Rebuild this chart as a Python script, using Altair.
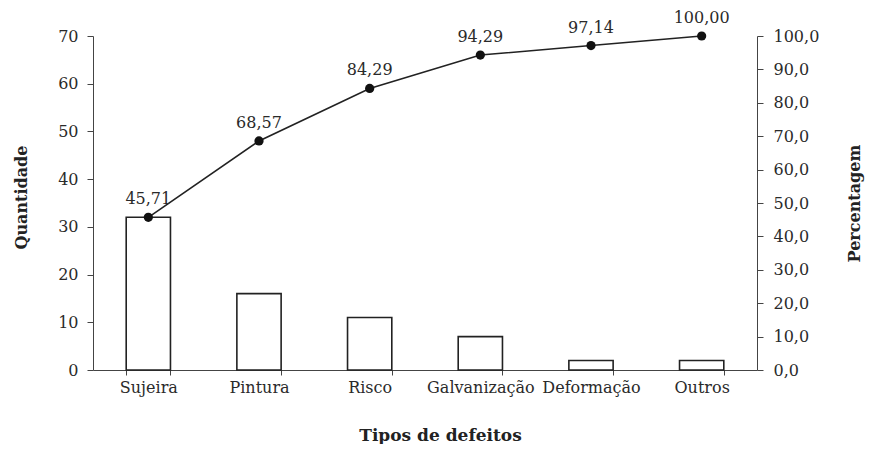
import altair as alt
import pandas as pd

categorias = ["Sujeira", "Pintura", "Risco", "Galvanização", "Deformação", "Outros"]
quantidade = [32, 16, 11, 7, 2, 2]
percentual = [45.71, 68.57, 84.29, 94.29, 97.14, 100.00]
rotulos = ["45,71", "68,57", "84,29", "94,29", "97,14", "100,00"]
ticks_pct = [0, 10, 20, 30, 40, 50, 60, 70, 80, 90, 100]
ticks_qtd = [0, 10, 20, 30, 40, 50, 60, 70]

df = pd.DataFrame({"cat": categorias, "qtd": quantidade, "pct": percentual, "lab": rotulos})

FONT = "DejaVu Serif"
AX = "#444444"
TXT = "#2a2a2a"
LFS = 16

xenc = alt.X(
    "cat:N",
    sort=categorias,
    scale=alt.Scale(paddingInner=0.6, paddingOuter=0.3),
    axis=alt.Axis(
        title="Tipos de defeitos",
        tickBand="extent",
        labelAngle=0,
        labelFontSize=LFS,
        labelFont=FONT,
        labelColor=TXT,
        labelPadding=4,
        tickSize=5,
        tickColor=AX,
        domainColor=AX,
        titleFont=FONT,
        titleFontSize=17,
        titleFontWeight="bold",
        titleColor="#222222",
        titleBaseline="alphabetic",
        titleAlign="center",
        titleX=347,
        titleY=70,
    ),
)

bars = alt.Chart(df).mark_bar(fill="white", stroke="#222222", strokeWidth=1.6).encode(
    x=xenc,
    y=alt.Y(
        "qtd:Q",
        scale=alt.Scale(domain=[0, 70], nice=False),
        axis=alt.Axis(
            title="Quantidade",
            values=ticks_qtd,
            grid=False,
            labelFontSize=LFS,
            labelFont=FONT,
            labelColor=TXT,
            labelPadding=9,
            tickSize=6,
            tickColor=AX,
            domainColor=AX,
            titleFont=FONT,
            titleFontSize=16,
            titleFontWeight="bold",
            titleColor="#222222",
            titlePadding=28,
            titleY=161,
        ),
    ),
)

ypct = alt.Y(
    "pct:Q",
    scale=alt.Scale(domain=[0, 100], nice=False),
    axis=alt.Axis(
        title="Percentagem",
        orient="right",
        values=ticks_pct,
        labelExpr="replace(format(datum.value, '.1f'), '.', ',')",
        grid=False,
        labelFontSize=LFS,
        labelFont=FONT,
        labelColor=TXT,
        labelPadding=10,
        tickSize=6,
        tickColor=AX,
        domainColor=AX,
        titleFont=FONT,
        titleFontSize=16,
        titleFontWeight="bold",
        titleColor="#222222",
        titleAngle=270,
        titlePadding=44,
    ),
)

xl = alt.X("cat:N", sort=categorias)

line = alt.Chart(df).mark_line(color="#222222", strokeWidth=1.6).encode(x=xl, y=ypct)
pts = alt.Chart(df).mark_point(filled=True, color="#111111", size=85, opacity=1).encode(x=xl, y=ypct)
txt = alt.Chart(df).mark_text(font=FONT, fontSize=LFS, color=TXT, dy=-18, baseline="middle").encode(
    x=xl, y=ypct, text="lab:N"
)

chart = (
    alt.layer(bars, alt.layer(line, pts, txt))
    .resolve_scale(y="independent")
    .properties(
        width=664,
        height=334,
        autosize=alt.AutoSizeParams(type="none"),
        padding={"left": 85, "top": 28, "right": 109, "bottom": 74},
        background="white",
    )
    .configure_view(stroke=None)
)

chart.save("out.html", embed_options={"renderer": "svg", "actions": False})
